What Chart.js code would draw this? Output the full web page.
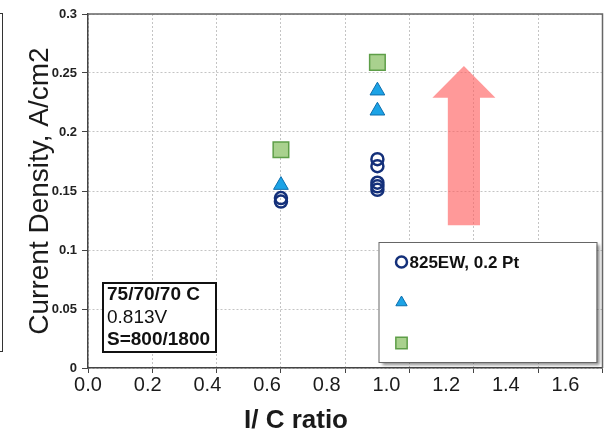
<!DOCTYPE html>
<html>
<head>
<meta charset="utf-8">
<title>I/C ratio vs current density</title>
<script src="https://cdn.jsdelivr.net/npm/chart.js@4.4.1/dist/chart.umd.min.js"></script>
<style>
  html, body { margin: 0; padding: 0; background: #fff; }
  #wrap { position: relative; width: 615px; height: 436px; overflow: hidden; }
  #sideFrame { position: absolute; left: -20px; top: 13px; width: 21px; height: 337px; border: 1.5px solid #333; }
  canvas { position: absolute; left: 0; top: 0; }
</style>
</head>
<body>
<div id="wrap">
  <div id="sideFrame"></div>
  <canvas id="icChart" width="615" height="436"></canvas>
</div>
<script>
// series values
const circleX = [0.6, 0.6, 0.9, 0.9, 0.9, 0.9, 0.9];
const circleY = [0.144, 0.141, 0.177, 0.171, 0.157, 0.154, 0.151];
const triangleX = [0.6, 0.9, 0.9];
const triangleY = [0.155, 0.235, 0.218];
const squareX = [0.6, 0.9];
const squareY = [0.185, 0.259];
const seriesLabels = ['825EW, 0.2 Pt', '', ''];

// axis ticks
const xTicks = [0, 0.2, 0.4, 0.6, 0.8, 1.0, 1.2, 1.4, 1.6];
const yTicks = [0, 0.05, 0.1, 0.15, 0.2, 0.25, 0.3];
const LABEL_AXIS_MAX = 1.724; // label row is packed tighter than the grid

const noteLines = ['75/70/70 C', '0.813V', 'S=800/1800'];

// big arrow, in data units
const arrow = { x: 1.169, tip: 0.256, headBase: 0.229, tail: 0.121, shaftHalf: 0.05, headHalf: 0.098 };

Chart.defaults.font.family = "'Liberation Sans', Arial, sans-serif";
Chart.defaults.color = '#1a1a1a';

const toPoints = (xs, ys) => xs.map((x, i) => ({ x: x, y: ys[i] }));

// grey frame on top/right of plot
const framePlugin = {
  id: 'frame',
  beforeDatasetsDraw(chart) {
    const { ctx, chartArea: ca } = chart;
    ctx.save();
    ctx.strokeStyle = '#666';
    ctx.lineWidth = 1.5;
    ctx.beginPath();
    ctx.moveTo(ca.left, ca.top);
    ctx.lineTo(ca.right, ca.top);
    ctx.lineTo(ca.right, ca.bottom);
    ctx.stroke();
    ctx.restore();
  }
};

// translucent pink arrow
const arrowPlugin = {
  id: 'bigArrow',
  beforeDatasetsDraw(chart) {
    const { ctx, scales: { x, y } } = chart;
    const cx = x.getPixelForValue(arrow.x);
    const sl = x.getPixelForValue(arrow.x - arrow.shaftHalf);
    const sr = x.getPixelForValue(arrow.x + arrow.shaftHalf);
    const hl = x.getPixelForValue(arrow.x - arrow.headHalf);
    const hr = x.getPixelForValue(arrow.x + arrow.headHalf);
    const tip = y.getPixelForValue(arrow.tip);
    const hb = y.getPixelForValue(arrow.headBase);
    const tail = y.getPixelForValue(arrow.tail);
    ctx.save();
    ctx.fillStyle = 'rgba(255, 90, 90, 0.62)';
    ctx.beginPath();
    ctx.moveTo(cx, tip);
    ctx.lineTo(hr, hb);
    ctx.lineTo(sr, hb);
    ctx.lineTo(sr, tail);
    ctx.lineTo(sl, tail);
    ctx.lineTo(sl, hb);
    ctx.lineTo(hl, hb);
    ctx.closePath();
    ctx.fill();
    ctx.restore();
  }
};

// legend box in lower right of plot
const legendRadius = [5.5, 6.5, 8];
const legendPlugin = {
  id: 'legendBox',
  afterDatasetsDraw(chart) {
    const { ctx, chartArea: ca } = chart;
    const w = 218, h = 120;
    const x0 = ca.right - 6 - w, y0 = ca.bottom - 6 - h;
    ctx.save();
    ctx.shadowColor = 'rgba(0,0,0,0.45)';
    ctx.shadowOffsetX = 3;
    ctx.shadowOffsetY = 3;
    ctx.shadowBlur = 3;
    ctx.fillStyle = '#fff';
    ctx.fillRect(x0, y0, w, h);
    ctx.shadowColor = 'transparent';
    ctx.strokeStyle = '#666';
    ctx.lineWidth = 1;
    ctx.strokeRect(x0 + 0.5, y0 + 0.5, w, h);
    chart.data.datasets.forEach((ds, i) => {
      const cy = y0 + 20 + i * 40.5;
      ctx.fillStyle = ds.backgroundColor;
      ctx.strokeStyle = ds.borderColor;
      ctx.lineWidth = ds.borderWidth;
      Chart.helpers.drawPoint(ctx, { pointStyle: ds.pointStyle, radius: legendRadius[i], borderWidth: ds.borderWidth, rotation: 0 }, x0 + 23, cy);
      if (ds.label) {
        ctx.fillStyle = '#111';
        ctx.font = "bold 17px 'Liberation Sans', Arial, sans-serif";
        ctx.textBaseline = 'middle';
        ctx.fillText(ds.label, x0 + 31, cy + 1);
      }
    });
    ctx.restore();
  }
};

// operating conditions box
const notePlugin = {
  id: 'noteBox',
  afterDatasetsDraw(chart) {
    const { ctx, chartArea: ca } = chart;
    const w = 113, h = 69;
    const x0 = ca.left + 15, y0 = ca.bottom - 16 - h;
    ctx.save();
    ctx.fillStyle = '#fff';
    ctx.fillRect(x0, y0, w, h);
    ctx.strokeStyle = '#111';
    ctx.lineWidth = 2;
    ctx.strokeRect(x0, y0, w, h);
    ctx.fillStyle = '#111';
    ctx.textBaseline = 'middle';
    noteLines.forEach((line, i) => {
      ctx.font = (i === 1 ? '' : 'bold ') + "19px 'Liberation Sans', Arial, sans-serif";
      ctx.fillText(line, x0 + 4, y0 + 12 + i * 22.5);
    });
    ctx.restore();
  }
};

new Chart(document.getElementById('icChart'), {
  type: 'scatter',
  data: {
    datasets: [
      {
        label: seriesLabels[0],
        data: toPoints(circleX, circleY),
        pointStyle: 'circle',
        pointRadius: 6,
        borderWidth: 2.5,
        borderColor: '#14307a',
        backgroundColor: 'rgba(0,0,0,0)'
      },
      {
        label: seriesLabels[1],
        data: toPoints(triangleX, triangleY),
        pointStyle: 'triangle',
        pointRadius: 8.5,
        borderWidth: 1,
        borderColor: '#0d6fae',
        backgroundColor: '#1ca3e6'
      },
      {
        label: seriesLabels[2],
        data: toPoints(squareX, squareY),
        pointStyle: 'rect',
        pointRadius: 11,
        borderWidth: 1.5,
        borderColor: '#5e9e48',
        backgroundColor: '#a9d18e'
      }
    ]
  },
  options: {
    responsive: false,
    animation: false,
    devicePixelRatio: 1,
    layout: { padding: { left: -12, right: 11, top: 14, bottom: 0 } },
    plugins: {
      legend: { display: false },
      tooltip: { enabled: false },
      title: {
        display: true,
        position: 'bottom',
        text: 'I/ C ratio',
        color: '#1a1a1a',
        font: { size: 26, weight: 'bold' },
        padding: { top: 0, bottom: 0 }
      }
    },
    scales: {
      x: {
        type: 'linear',
        position: 'bottom',
        min: 0,
        max: 1.6,
        afterBuildTicks: s => { s.ticks = xTicks.map(v => ({ value: v })); },
        ticks: { display: false },
        grid: { color: '#c4c4c4', tickColor: '#444', tickLength: 5 },
        border: { color: '#444', width: 1.5, dash: [2, 2] },
        afterFit: s => { s.height = 5; }
      },
      xl: {
        type: 'linear',
        position: 'bottom',
        weight: 1,
        min: 0,
        max: LABEL_AXIS_MAX,
        afterBuildTicks: s => { s.ticks = xTicks.map(v => ({ value: v })); },
        ticks: {
          callback: v => v.toFixed(1),
          font: { size: 20 },
          color: '#1a1a1a',
          padding: 0,
          maxRotation: 0,
          autoSkip: false
        },
        grid: { display: false, drawTicks: false },
        border: { display: false },
        afterFit: s => { s.height = 31.8; }
      },
      y: {
        type: 'linear',
        min: 0,
        max: 0.3,
        afterBuildTicks: s => { s.ticks = yTicks.map(v => ({ value: v })); },
        ticks: {
          callback: v => String(parseFloat(v.toFixed(2))),
          font: { size: 13, weight: 'bold' },
          color: '#222',
          padding: 5
        },
        grid: { color: '#c4c4c4', tickColor: '#444', tickLength: 6 },
        border: { color: '#444', width: 1.5, dash: [2, 2] },
        title: {
          display: true,
          text: 'Current Density, A/cm2',
          color: '#1a1a1a',
          font: { size: 28 },
          padding: { top: 35, bottom: 0 }
        },
        afterFit: s => { s.width = 100; }
      }
    }
  },
  plugins: [framePlugin, arrowPlugin, legendPlugin, notePlugin]
});
</script>
</body>
</html>
